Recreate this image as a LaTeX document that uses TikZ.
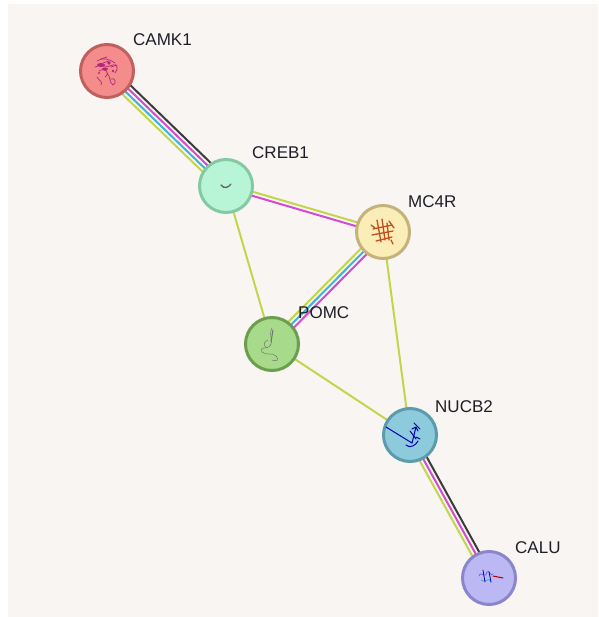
\documentclass[tikz,border=0pt]{standalone}
\usepackage{fontspec}
\setmainfont{Liberation Sans}
\usetikzlibrary{calc}
\pgfdeclarelayer{back}
\pgfdeclarelayer{edges}
\pgfsetlayers{back,edges,main}

\definecolor{panel}{HTML}{F8F5F2}
\definecolor{labeltext}{HTML}{1E1E28}
\definecolor{evgreen}{HTML}{C2D64B}
\definecolor{evmagenta}{HTML}{D24BD2}
\definecolor{evcyan}{HTML}{3AB4D8}
\definecolor{evblack}{HTML}{3C3C3C}
\definecolor{camkfill}{HTML}{F58C8C}\definecolor{camkdraw}{HTML}{C0605E}
\definecolor{crebfill}{HTML}{B7F5D6}\definecolor{crebdraw}{HTML}{85C9A3}
\definecolor{mcfill}{HTML}{FBEDB8}\definecolor{mcdraw}{HTML}{C4B27B}
\definecolor{pomcfill}{HTML}{A8DA8C}\definecolor{pomcdraw}{HTML}{6C9E4E}
\definecolor{nucbfill}{HTML}{8DCBDC}\definecolor{nucbdraw}{HTML}{5B9BAB}
\definecolor{calufill}{HTML}{BCB8F4}\definecolor{caludraw}{HTML}{8B85CC}
\definecolor{camkink}{HTML}{B0287A}
\definecolor{mcink}{HTML}{C0501E}

\tikzset{
  prot/.style={circle, minimum size=53pt, line width=3pt, inner sep=0pt},
  plabel/.style={anchor=base west, inner sep=0pt, text=labeltext, font=\fontsize{17}{19}\selectfont},
  edgeline/.style={line width=2pt},
  glyph/.style={line width=0.7pt, line cap=round, line join=round},
}

% one coloured strand of an interaction, shifted sideways by #2
\newcommand\strand[4]{%
  \draw[edgeline,#1] ($(#3.center)!#2!90:(#4.center)$) -- ($(#4.center)!#2!-90:(#3.center)$);}

\begin{document}
\begin{tikzpicture}[x=1pt,y=-1pt]
\useasboundingbox (0,0) rectangle (598,617);
\begin{pgfonlayer}{back}
  \fill[white] (0,0) rectangle (598,617);
  \fill[panel] (8,4) rectangle (598,617);
\end{pgfonlayer}

% proteins
\node[prot, fill=camkfill, draw=camkdraw] (camk) at (107,71) {};
\node[prot, fill=crebfill, draw=crebdraw] (creb) at (226,186) {};
\node[prot, fill=mcfill, draw=mcdraw] (mc4r) at (383,232) {};
\node[prot, fill=pomcfill, draw=pomcdraw] (pomc) at (272,344) {};
\node[prot, fill=nucbfill, draw=nucbdraw] (nucb) at (410,435) {};
\node[prot, fill=calufill, draw=caludraw] (calu) at (489,578) {};

% names
\node[plabel] (camkname) at (133,46) {CAMK1};
\node[plabel] (crebname) at (252,159) {CREB1};
\node[plabel] (mcname) at (408,208) {MC4R};
\node[plabel] (pomcname) at (298,318) {POMC};
\node[plabel] (nucbname) at (435,412) {NUCB2};
\node[plabel] (caluname) at (515,553) {CALU};

% structure sketches inside the bubbles
\begin{scope}[shift={(camk.center)}, glyph, draw=camkink]
  \draw (-10,-10) .. controls (-4,-14) and (2,-12) .. (8,-8);
  \draw (-12,-4) .. controls (-6,-8) and (0,-2) .. (6,-6) .. controls (10,-8) and (12,-2) .. (8,2);
  \draw (-8,0) .. controls (-2,-4) and (4,2) .. (-2,6);
  \draw (-4,-8) -- (2,-10) (-6,-12) -- (0,-14) (4,-4) -- (10,-6);
  \draw (0,2) .. controls (4,6) and (2,12) .. (6,14) .. controls (10,12) and (8,6) .. (4,8);
  \draw (-10,6) .. controls (-8,10) and (-4,10) .. (-6,14);
  \fill[camkink] (-6,-6) ellipse (4 and 2) (2,-8) circle (1.8) (-2,-2) ellipse (3 and 1.6) (6,0) circle (1.4) (-8,2) circle (1.2);
\end{scope}
\begin{scope}[shift={(creb.center)}, glyph, draw=black!60, line width=1.4pt]
  \draw (-5,-1) .. controls (-2,3) and (2,2) .. (5,-2);
\end{scope}
\begin{scope}[shift={(mc4r.center)}, glyph, draw=mcink, line width=1.3pt]
  \draw (-6,-12) -- (-2,10) (-1,-13) -- (2,8) (4,-9) -- (6,8);
  \draw (-10,-3) -- (9,-7) (-11,3) -- (10,-1) (-7,9) -- (9,5);
  \draw (6,-11) -- (11,-4) (-12,-7) -- (-8,-4) (8,8) -- (10,12);
\end{scope}
\begin{scope}[shift={(pomc.center)}, glyph, draw=black!55, line width=0.5pt]
  \draw (0,-16) .. controls (-4,-8) and (2,-4) .. (-2,2) .. controls (-8,6) and (-12,2) .. (-10,8)
        .. controls (-6,12) and (0,8) .. (4,12) .. controls (8,16) and (4,18) .. (0,16);
  \draw[line width=1pt] (1,-14) -- (-1,-2);
  \draw (-4,-4) .. controls (-10,-2) and (-8,4) .. (-4,4);
\end{scope}
\begin{scope}[shift={(nucb.center)}, glyph, draw=blue!70!black, line width=1pt]
  \draw (-24,-8) -- (2,8);
  \draw (2,8) -- (6,-8) (6,-8) -- (2,-6) (6,-8) -- (8,-4);
  \draw (0,-4) -- (6,4) (4,-12) -- (10,-6);
  \draw (-4,10) .. controls (0,14) and (6,10) .. (8,6) (6,2) -- (10,4);
\end{scope}
\begin{scope}[shift={(calu.center)}, glyph, line width=0.8pt]
  \draw[blue!60] (-10,-2) .. controls (-8,-8) and (-4,2) .. (-2,-6) .. controls (0,-10) and (2,0) .. (4,-4);
  \draw[teal!70] (-8,2) .. controls (-4,6) and (0,-2) .. (2,4);
  \draw[blue!70!black] (-6,-8) -- (-4,4) (0,-6) -- (2,4);
  \draw[red!70!black, line width=1pt] (4,-2) -- (14,0);
\end{scope}

% interactions
\begin{pgfonlayer}{edges}
  \strand{evblack}{6pt}{camk}{creb}
  \strand{evmagenta}{2pt}{camk}{creb}
  \strand{evcyan}{-2pt}{camk}{creb}
  \strand{evgreen}{-6pt}{camk}{creb}

  \strand{evgreen}{2pt}{creb}{mc4r}
  \strand{evmagenta}{-2pt}{creb}{mc4r}

  \strand{evgreen}{0pt}{creb}{pomc}

  \strand{evmagenta}{4pt}{mc4r}{pomc}
  \strand{evcyan}{0pt}{mc4r}{pomc}
  \strand{evgreen}{-4pt}{mc4r}{pomc}

  \strand{evgreen}{0pt}{mc4r}{nucb}
  \strand{evgreen}{0pt}{pomc}{nucb}

  \strand{evblack}{4pt}{nucb}{calu}
  \strand{evmagenta}{0pt}{nucb}{calu}
  \strand{evgreen}{-4pt}{nucb}{calu}
\end{pgfonlayer}
\end{tikzpicture}
\end{document}
